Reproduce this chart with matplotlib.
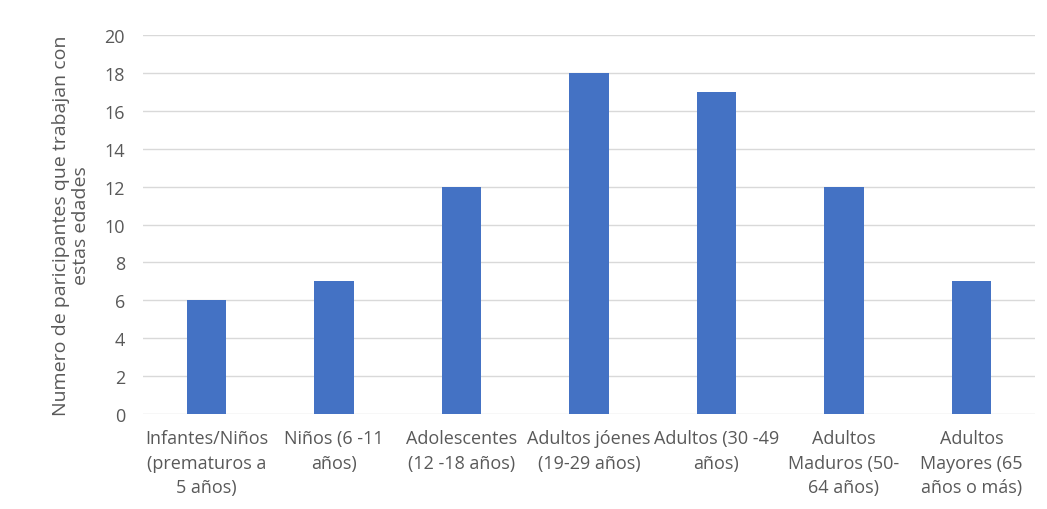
import matplotlib.pyplot as plt
import numpy as np

categorias = ["Infantes/Niños\n(prematuros a\n5 años)",
              "Niños (6 -11\naños)",
              "Adolescentes\n(12 -18 años)",
              "Adultos jóenes\n(19-29 años)",
              "Adultos (30 -49\naños)",
              "Adultos\nMaduros (50-\n64 años)",
              "Adultos\nMayores (65\naños o más)"]
participantes = [6, 7, 12, 18, 17, 12, 7]
yticks = [0, 2, 4, 6, 8, 10, 12, 14, 16, 18, 20]

plt.rcParams['font.family'] = ['Open Sans', 'DejaVu Sans']
gris = '#595959'

fig = plt.figure(figsize=(10.47, 5.10), dpi=100)
ax = fig.add_axes([0.1366, 0.1863, 0.852, 0.743])

x = np.arange(len(categorias))
ax.bar(x, participantes, width=0.31, color='#4472C4', zorder=3)

ax.set_xlim(-0.5, len(categorias) - 0.5)
ax.set_ylim(0, 20)
ax.set_yticks(yticks)
ax.set_xticks(x)
ax.set_xticklabels(categorias, fontsize=13, color=gris, linespacing=1.45)
ax.tick_params(axis='y', labelsize=13, labelcolor=gris, length=0, pad=13)
ax.tick_params(axis='x', length=0, pad=11)
ax.grid(axis='y', color='#d9d9d9', linewidth=1, zorder=0)
for s in ax.spines.values():
    s.set_visible(False)

ax.set_ylabel("Numero de paricipantes que trabajan con\nestas edades",
              fontsize=14, color=gris, linespacing=1.2, labelpad=10)

plt.savefig("out.png", dpi=100)
